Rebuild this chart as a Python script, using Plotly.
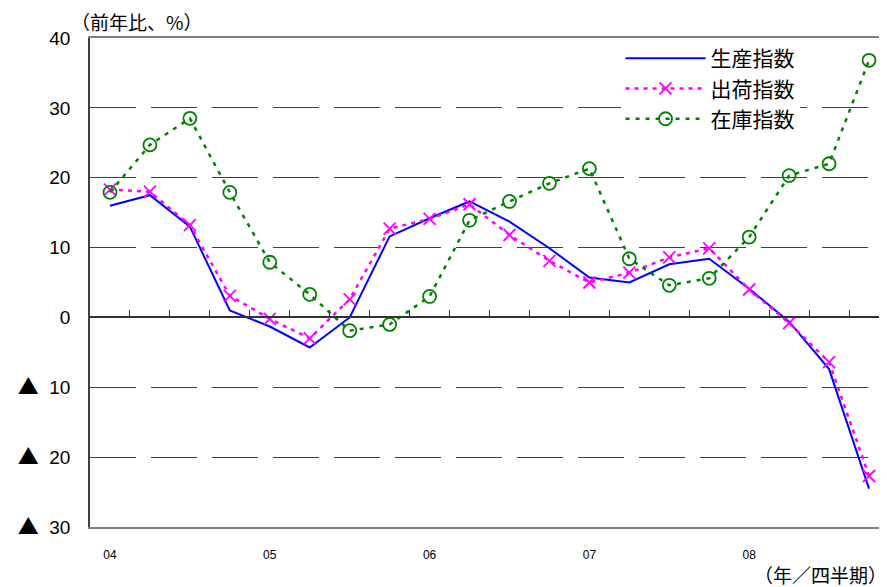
import plotly.graph_objects as go

# quarters 2004Q1 .. 2008Q4
quarters = [f"{y:02d}Q{q}" for y in range(4, 9) for q in range(1, 5)]
year_ticks = ["04Q1", "05Q1", "06Q1", "07Q1", "08Q1"]
year_labels = ["04", "05", "06", "07", "08"]

production = [16.0, 17.5, 13.0, 1.0, -1.3, -4.3, 0.0, 11.6, 14.2, 16.6,
              13.7, 9.9, 5.7, 5.0, 7.6, 8.4, 4.1, -0.6, -7.4, -24.5]
shipments = [18.3, 18.0, 13.2, 3.1, -0.2, -3.0, 2.6, 12.7, 14.1, 16.2,
             11.8, 8.1, 5.0, 6.4, 8.6, 9.9, 4.0, -0.8, -6.4, -22.7]
inventory = [17.9, 24.7, 28.5, 17.9, 7.9, 3.3, -1.9, -1.0, 3.0, 13.9,
             16.6, 19.2, 21.3, 8.4, 4.6, 5.6, 11.5, 20.3, 22.0, 36.8]

y_ticks = [-30, -20, -10, 0, 10, 20, 30, 40]
TRI = '<span style="font-family:Noto Sans CJK JP;font-size:21px">▲</span>&nbsp;&nbsp;'
y_labels = [TRI + "30", TRI + "20", TRI + "10", "0", "10", "20", "30", "40"]

FONT = "Noto Sans CJK JP, Liberation Sans, sans-serif"
NUM_FONT = "Liberation Sans, Arial, sans-serif"

fig = go.Figure()

# helper trace that carries the zero-line axis with quarter ticks
fig.add_trace(go.Scatter(x=quarters, y=production, xaxis="x2", mode="lines",
                         opacity=0, showlegend=False, hoverinfo="skip"))

fig.add_trace(go.Scatter(x=quarters, y=production, name="生産指数", mode="lines",
                         line=dict(color="#0000FF", width=2)))
fig.add_trace(go.Scatter(x=quarters, y=shipments, name="出荷指数", mode="lines+markers",
                         line=dict(color="#FF00FF", width=2.5, dash="4px,5px"),
                         marker=dict(symbol="x-thin", size=12,
                                     line=dict(color="#FF00FF", width=1.8))))
fig.add_trace(go.Scatter(x=quarters, y=inventory, name="在庫指数", mode="lines+markers",
                         line=dict(color="#008000", width=2.5, dash="4px,6px"),
                         marker=dict(symbol="circle-open", size=13, color="#008000",
                                     line=dict(width=1.8))))

fig.update_layout(
    width=887, height=587,
    margin=dict(l=82, r=6, t=30, b=68, autoexpand=False),
    plot_bgcolor="white", paper_bgcolor="white",
    font=dict(family=FONT, size=18, color="black"),
    xaxis=dict(type="category", categoryorder="array", categoryarray=quarters,
               range=[-0.5, len(quarters) - 0.5], automargin=False,
               tickmode="array", tickvals=year_ticks, ticktext=year_labels,
               tickfont=dict(size=12, family=NUM_FONT), ticks="", ticklabelstandoff=16,
               showgrid=False, showline=True, linecolor="#808080", linewidth=2,
               mirror=True, zeroline=False),
    xaxis2=dict(type="category", categoryorder="array", categoryarray=quarters,
                range=[-0.5, len(quarters) - 0.5], overlaying="x",
                anchor="free", position=3 / 7, side="bottom", automargin=False,
                showline=True, linecolor="#303030", linewidth=1.5,
                tickson="boundaries", ticks="inside", ticklen=7, tickwidth=1,
                tickcolor="#303030", showticklabels=False, showgrid=False),
    yaxis=dict(range=[-30, 40], tickmode="array", tickvals=y_ticks, ticktext=y_labels,
               automargin=False,
               showgrid=True, gridcolor="#404040", gridwidth=1, griddash="46px,15px",
               zeroline=False, showline=True, linecolor="#404040", linewidth=1.5,
               ticks="", ticklabelstandoff=14, tickfont=dict(size=19, family=NUM_FONT)),
    legend=dict(x=0.664, y=1.0, xanchor="left", yanchor="top",
                bgcolor="white", itemwidth=80, font=dict(size=21),
                tracegroupgap=0),
    annotations=[
        dict(text="（前年比、%）", xref="paper", yref="paper", x=-0.026, y=1.0,
             xanchor="left", yanchor="middle", yshift=17, showarrow=False,
             font=dict(size=19)),
        dict(text="（年／四半期）", xref="paper", yref="paper", x=1.0, y=0,
             xanchor="right", yanchor="middle", yshift=-47, showarrow=False,
             font=dict(size=19)),
    ],
)

fig.write_html("out.html")
